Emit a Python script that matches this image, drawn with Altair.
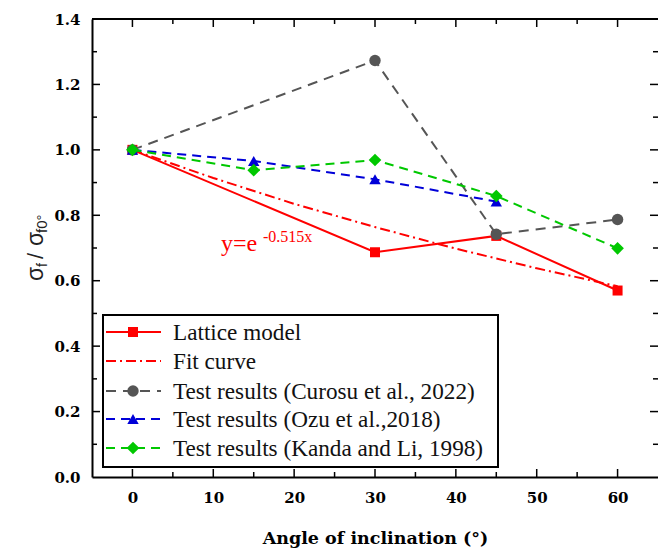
import altair as alt
import pandas as pd

# Normalised strength sigma_f / sigma_f0 against angle of inclination (degrees)
lattice_x = [0, 30, 45, 60]
lattice_y = [1.0, 0.687, 0.737, 0.570]

fit_x = [0, 10, 20, 30, 40, 50, 60]
fit_y = [1.0, 0.914, 0.835, 0.764, 0.698, 0.638, 0.583]

curosu_x = [0, 30, 45, 60]
curosu_y = [1.0, 1.273, 0.742, 0.787]

ozu_x = [0, 15, 30, 45]
ozu_y = [1.0, 0.966, 0.910, 0.842]

kanda_x = [0, 15, 30, 45, 60]
kanda_y = [1.0, 0.938, 0.969, 0.859, 0.699]

legend_labels = [
    "Lattice model",
    "Fit curve",
    "Test results (Curosu et al., 2022)",
    "Test results (Ozu et al.,2018)",
    "Test results (Kanda and Li, 1998)",
]

x_major = [0, 10, 20, 30, 40, 50, 60]
x_minor = [5, 15, 25, 35, 45, 55]
y_major = [0.0, 0.2, 0.4, 0.6, 0.8, 1.0, 1.2, 1.4]
y_minor = [0.1, 0.3, 0.5, 0.7, 0.9, 1.1, 1.3]

W, H = 566, 458
SERIF = "'Times New Roman', 'Liberation Serif', serif"
BOLD_SERIF = "'DejaVu Serif', serif"

RED = "#ff0000"
GRAY = "#555555"
BLUE = "#0000d8"
GREEN = "#00c800"

# style of each series: (label, xs, ys, color, dash, shape, marker size)
series = [
    (legend_labels[1], fit_x, fit_y, RED, [10, 4, 2, 4], None, 0),
    (legend_labels[0], lattice_x, lattice_y, RED, None, "square", 100),
    (legend_labels[2], curosu_x, curosu_y, GRAY, [10, 7], "circle", 130),
    (legend_labels[3], ozu_x, ozu_y, BLUE, [9, 6], "triangle-up", 130),
    (legend_labels[4], kanda_x, kanda_y, GREEN, [9, 6], "diamond", 160),
]


def X(field):
    return alt.X(
        f"{field}:Q",
        scale=alt.Scale(domain=[-5, 65], nice=False, zero=False),
        axis=alt.Axis(
            values=x_major, ticks=False, grid=False, domainColor="black",
            domainWidth=2, labelFont=BOLD_SERIF, labelFontSize=15,
            labelFontWeight="bold", labelColor="black", labelPadding=13,
            title="Angle of inclination (°)", titleFont=BOLD_SERIF,
            titleFontSize=17.5, titleFontWeight="bold", titleColor="black",
            titlePadding=24,
        ),
    )


def Y(field):
    return alt.Y(
        f"{field}:Q",
        scale=alt.Scale(domain=[0, 1.4], nice=False, zero=False),
        axis=alt.Axis(
            values=y_major, format=".1f", ticks=False, grid=False,
            domainColor="black", domainWidth=2, labelFont=BOLD_SERIF,
            labelFontSize=15, labelFontWeight="bold", labelColor="black",
            labelPadding=12, title=None,
        ),
    )


layers = []

# inward ticks on all four sides
def tick_layer(values, axis, length):
    df = pd.DataFrame({"v": values})
    base = alt.Chart(df).mark_rule(color="black", strokeWidth=1.5)
    if axis == "x":
        return [
            base.encode(x=X("v"), y=alt.value(H), y2=alt.value(H - length)),
            base.encode(x=X("v"), y=alt.value(0), y2=alt.value(length)),
        ]
    return [
        base.encode(y=Y("v"), x=alt.value(0), x2=alt.value(length)),
        base.encode(y=Y("v"), x=alt.value(W), x2=alt.value(W - length)),
    ]


layers += tick_layer(x_major, "x", 8)
layers += tick_layer(x_minor, "x", 5)
layers += tick_layer(y_major[1:-1], "y", 8)
layers += tick_layer(y_minor, "y", 5)

# top frame line
layers.append(
    alt.Chart(pd.DataFrame({"a": [0]})).mark_rule(color="black", strokeWidth=2).encode(
        x=alt.value(0), x2=alt.value(W), y=alt.value(0)
    )
)

# data series
for label, xs, ys, color, dash, shape, size in series:
    df = pd.DataFrame({"x": xs, "y": ys})
    line_kw = dict(color=color, strokeWidth=2)
    if dash:
        line_kw["strokeDash"] = dash
    layers.append(alt.Chart(df).mark_line(**line_kw).encode(x=X("x"), y=Y("y")))
    if shape:
        layers.append(
            alt.Chart(df)
            .mark_point(shape=shape, filled=True, color=color, size=size, opacity=1)
            .encode(x=X("x"), y=Y("y"))
        )

# fit equation
one = pd.DataFrame({"a": [0]})
layers.append(
    alt.Chart(one).mark_text(
        text="y=e", font=SERIF, fontSize=24, color=RED, align="left",
        baseline="alphabetic",
    ).encode(x=alt.value(129), y=alt.value(232))
)
layers.append(
    alt.Chart(one).mark_text(
        text="-0.515x", font=SERIF, fontSize=16, color=RED, align="left",
        baseline="alphabetic",
    ).encode(x=alt.value(171), y=alt.value(223))
)

# y-axis title: sigma_f / sigma_f0°
for txt, xv, yv, fs in [
    ("σ", -49, 262, 23),
    ("f", -45, 248, 14),
    ("/", -49, 240, 22),
    ("σ", -49, 227, 23),
    ("f0°", -45, 214, 15),
]:
    layers.append(
        alt.Chart(one).mark_text(
            text=txt, font="'Liberation Sans', Arial, sans-serif", fontSize=fs,
            color="#222", angle=270, align="left", baseline="alphabetic",
        ).encode(x=alt.value(xv), y=alt.value(yv))
    )

# legend box
LX0, LX1, LY0, LY1 = 11, 406, 296, 448
layers.append(
    alt.Chart(one).mark_rect(fill="white", stroke="black", strokeWidth=2).encode(
        x=alt.value(LX0), x2=alt.value(LX1), y=alt.value(LY0), y2=alt.value(LY1)
    )
)
legend_order = [series[1], series[0], series[2], series[3], series[4]]
row_y = [313, 342, 372, 400, 429]
for (label, xs, ys, color, dash, shape, size), ry in zip(legend_order, row_y):
    kw = dict(color=color, strokeWidth=2)
    if dash:
        kw["strokeDash"] = dash
    layers.append(
        alt.Chart(one).mark_rule(**kw).encode(
            x=alt.value(14), x2=alt.value(69), y=alt.value(ry)
        )
    )
    if shape:
        layers.append(
            alt.Chart(one).mark_point(
                shape=shape, filled=True, color=color, size=size, opacity=1
            ).encode(x=alt.value(41), y=alt.value(ry))
        )
    layers.append(
        alt.Chart(one).mark_text(
            text=label, font=SERIF, fontSize=23.2, color="#111", align="left",
            baseline="middle",
        ).encode(x=alt.value(81), y=alt.value(ry + 1))
    )

chart = (
    alt.layer(*layers)
    .properties(
        width=W,
        height=H,
        autosize=alt.AutoSizeParams(type="none"),
        padding={"left": 92, "top": 19, "right": 0, "bottom": 75},
    )
    .configure_view(stroke=None)
)

chart.save("out.html", embed_options={"renderer": "svg", "actions": False})
